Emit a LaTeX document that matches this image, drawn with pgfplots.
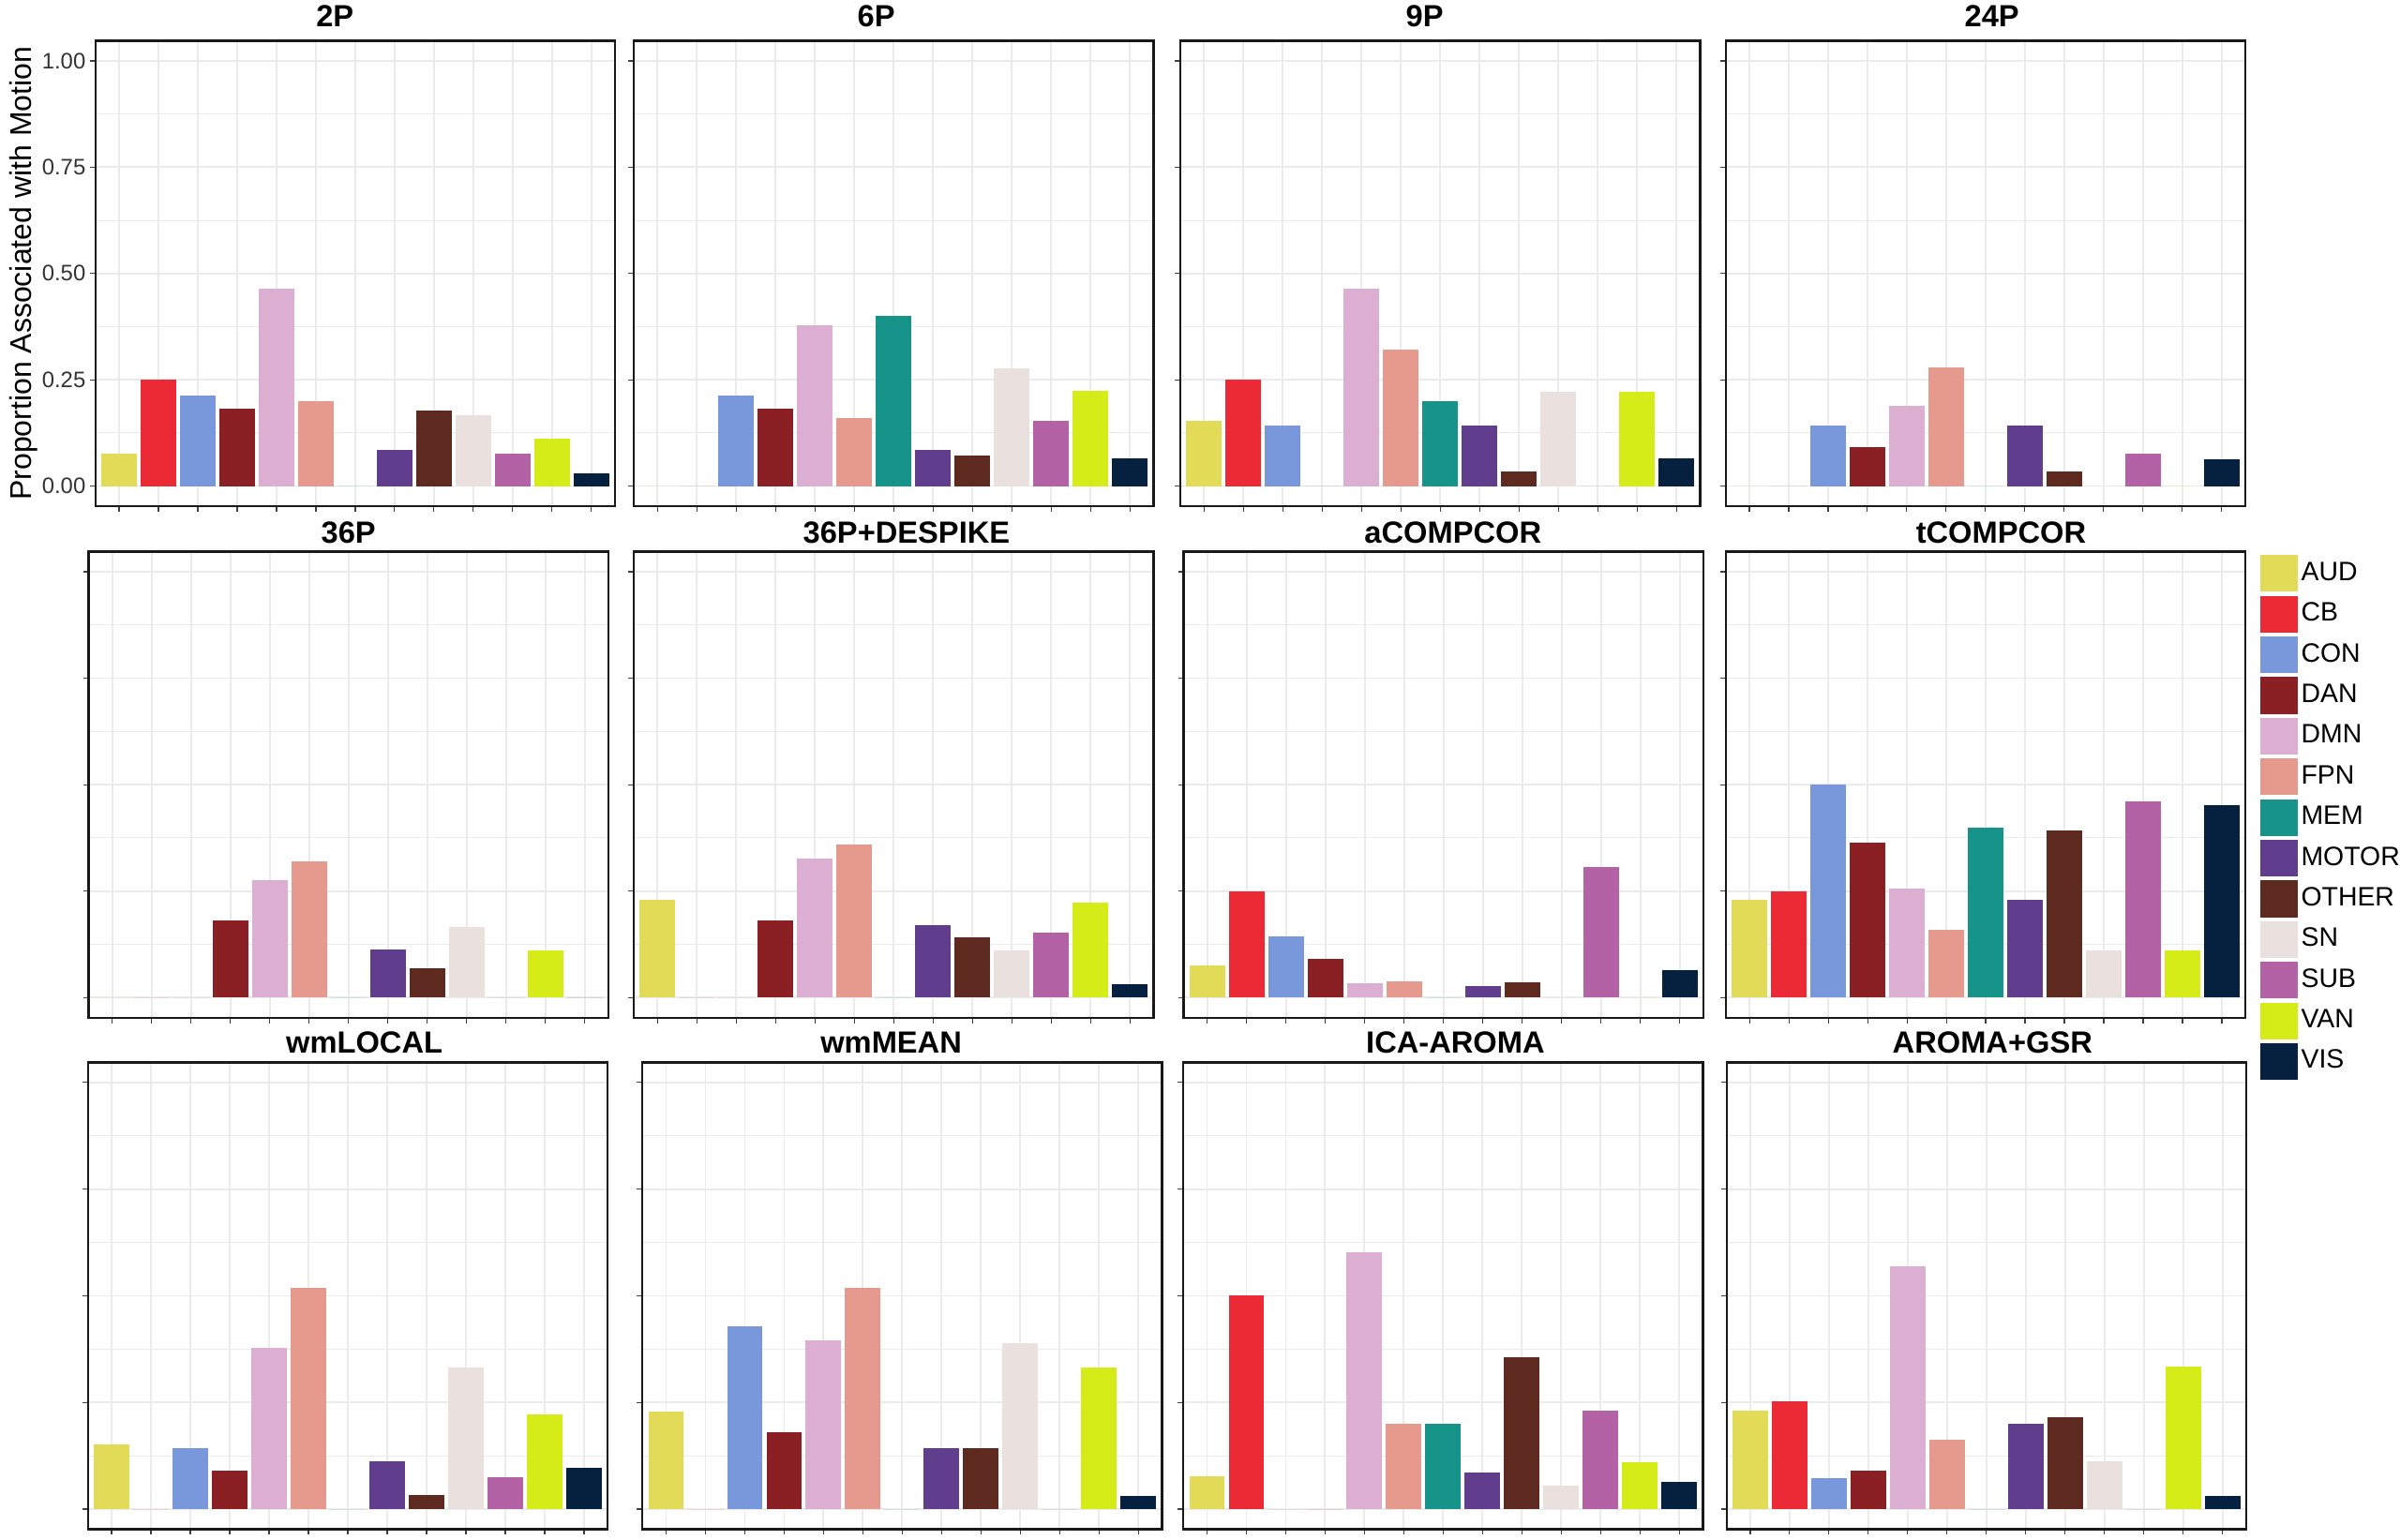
\documentclass[border=0pt]{standalone}
\usepackage{fontspec}
\setmainfont{Liberation Sans}
\usepackage{pgfplots}
\usepackage{pgfplotstable}
\pgfplotsset{compat=1.18}

\definecolor{cat1}{HTML}{E1DB57}
\definecolor{cat2}{HTML}{EC2A35}
\definecolor{cat3}{HTML}{7898DB}
\definecolor{cat4}{HTML}{8A1F24}
\definecolor{cat5}{HTML}{DCAED2}
\definecolor{cat6}{HTML}{E69A8D}
\definecolor{cat7}{HTML}{16948A}
\definecolor{cat8}{HTML}{613E8D}
\definecolor{cat9}{HTML}{5E2A1F}
\definecolor{cat10}{HTML}{EAE1DF}
\definecolor{cat11}{HTML}{B362A6}
\definecolor{cat12}{HTML}{D5EC18}
\definecolor{cat13}{HTML}{06203F}
\definecolor{gridgray}{HTML}{EBEBEB}

% rows: AUD CB CON DAN DMN FPN MEM MOTOR OTHER SN SUB VAN VIS
\pgfplotstableread{
i  PtwoP PsixP PnineP Ptwentyfour Pthirtysix Pdespike aCC   tCC   wmLOC wmMEAN ICA   AGSR
1  0.076 0     0.154  0           0          0.230    0.076 0.230 0.152 0.229  0.077 0.230
2  0.250 0     0.250  0           0          0        0.250 0.250 0     0      0.500 0.252
3  0.213 0.213 0.143  0.143       0          0        0.143 0.500 0.143 0.428  0     0.072
4  0.181 0.181 0      0.091       0.182      0.182    0.091 0.364 0.091 0.181  0     0.090
5  0.465 0.378 0.465  0.189       0.275      0.326    0.033 0.257 0.378 0.396  0.602 0.569
6  0.200 0.159 0.320  0.280       0.320      0.359    0.039 0.159 0.519 0.519  0.200 0.162
7  0     0.400 0.200  0           0          0        0     0.400 0     0      0.200 0
8  0.085 0.085 0.143  0.143       0.114      0.171    0.027 0.229 0.113 0.143  0.085 0.200
9  0.178 0.071 0.035  0.035       0.070      0.142    0.035 0.392 0.034 0.143  0.356 0.216
10 0.166 0.277 0.222  0           0.165      0.111    0     0.111 0.332 0.388  0.056 0.112
11 0.076 0.154 0      0.076       0          0.153    0.307 0.461 0.075 0      0.231 0
12 0.111 0.223 0.222  0           0.111      0.222    0     0.111 0.222 0.332  0.111 0.335
13 0.031 0.065 0.065  0.064       0          0.032    0.064 0.451 0.096 0.031  0.065 0.032
}\data

\newcommand\bars[1]{%
  \pgfplotsinvokeforeach{1,...,13}{%
    \addplot[ybar, bar width=0.9, bar shift=0pt, draw=none, fill=cat##1, forget plot,
      restrict x to domain=##1:##1] table[x=i, y=#1]{\data};
  }%
}

\pgfplotsset{
  every axis title/.style={at={(0.5,1)}, anchor=base, inner sep=0pt,
    font=\fontsize{10}{12}\selectfont\bfseries},
  every axis y label/.style={at={(axis description cs:-0.1233,0.5)}, rotate=90, anchor=base,
    inner sep=0pt, font=\fontsize{9.8}{12}\selectfont},
  panel/.style={
    scale only axis, width=169.75pt, height=152pt,
    anchor=south west,
    xmin=0.4, xmax=13.6, ymin=-0.047, ymax=1.047,
    xtick={1,...,13}, xticklabels={},
    ytick={0,0.25,0.5,0.75,1}, yticklabels={},
    minor ytick={0.125,0.375,0.625,0.875},
    xmajorgrids, ymajorgrids, yminorgrids,
    major grid style={color=gridgray, line width=0.55pt},
    minor grid style={color=gridgray, line width=0.3pt},
    tick pos=left, tick align=outside,
    major tick length=1.8pt, minor tick length=0pt,
    tick style={color=black!75, line width=0.4pt},
    axis line style={black!90, line width=0.7pt},
  },
}

\begin{document}
\begin{tikzpicture}
\path[use as bounding box] (0pt,0pt) rectangle (784pt,-503pt);

% ---------- Row 1 ----------
\begin{axis}[panel, at={(31.15pt,-165.35pt)}, title={2P},
  title style={xshift=-6.6pt, yshift=4.6pt},
  ylabel={Proportion Associated with Motion},
  yticklabels={0.00,0.25,0.50,0.75,1.00},
  yticklabel style={font=\fontsize{7.3}{8}\selectfont, color=black!80, inner sep=1.2pt}]
\bars{PtwoP}
\end{axis}

\begin{axis}[panel, at={(207.05pt,-165.35pt)}, title={6P},
  title style={xshift=-5.7pt, yshift=4.6pt}]
\bars{PsixP}
\end{axis}

\begin{axis}[panel, at={(385.6pt,-165.35pt)}, title={9P},
  title style={xshift=-5.1pt, yshift=4.6pt}]
\bars{PnineP}
\end{axis}

\begin{axis}[panel, at={(563.7pt,-165.35pt)}, title={24P},
  title style={xshift=2.1pt, yshift=4.6pt}]
\bars{Ptwentyfour}
\end{axis}

% ---------- Row 2 ----------
\begin{axis}[panel, height=152.25pt, at={(28.95pt,-332.5pt)}, title={36P},
  title style={xshift=0pt, yshift=2.65pt}]
\bars{Pthirtysix}
\end{axis}

\begin{axis}[panel, height=152.25pt, at={(207.05pt,-332.5pt)}, title={36P+DESPIKE},
  title style={xshift=4.2pt, yshift=2.65pt}]
\bars{Pdespike}
\end{axis}

\begin{axis}[panel, height=152.25pt, at={(386.65pt,-332.5pt)}, title={aCOMPCOR},
  title style={xshift=3.1pt, yshift=2.65pt}]
\bars{aCC}
\end{axis}

\begin{axis}[panel, height=152.25pt, at={(563.8pt,-332.5pt)}, title={tCOMPCOR},
  title style={xshift=5.0pt, yshift=2.65pt},
  legend image code/.code={\fill[#1, draw=none] (0pt,-6pt) rectangle (12pt,6pt);},
  legend cell align=left,
  legend style={at={(1.0292,0.9928)}, anchor=north west, draw=none, fill=none,
    inner sep=0pt, outer sep=0pt, row sep=1.29pt, column sep=1.2pt,
    nodes={inner sep=0pt}, font=\fontsize{8.7}{10}\selectfont}]
\bars{tCC}
\addlegendimage{fill=cat1, draw=none}\addlegendentry{AUD}
\addlegendimage{fill=cat2, draw=none}\addlegendentry{CB}
\addlegendimage{fill=cat3, draw=none}\addlegendentry{CON}
\addlegendimage{fill=cat4, draw=none}\addlegendentry{DAN}
\addlegendimage{fill=cat5, draw=none}\addlegendentry{DMN}
\addlegendimage{fill=cat6, draw=none}\addlegendentry{FPN}
\addlegendimage{fill=cat7, draw=none}\addlegendentry{MEM}
\addlegendimage{fill=cat8, draw=none}\addlegendentry{MOTOR}
\addlegendimage{fill=cat9, draw=none}\addlegendentry{OTHER}
\addlegendimage{fill=cat10, draw=none}\addlegendentry{SN}
\addlegendimage{fill=cat11, draw=none}\addlegendentry{SUB}
\addlegendimage{fill=cat12, draw=none}\addlegendentry{VAN}
\addlegendimage{fill=cat13, draw=none}\addlegendentry{VIS}
\end{axis}

% ---------- Row 3 ----------
\begin{axis}[panel, height=152.55pt, at={(28.75pt,-499.65pt)}, title={wmLOCAL},
  title style={xshift=5.4pt, yshift=2.95pt}]
\bars{wmLOC}
\end{axis}

\begin{axis}[panel, height=152.55pt, at={(209.85pt,-499.65pt)}, title={wmMEAN},
  title style={xshift=-3.6pt, yshift=2.95pt}]
\bars{wmMEAN}
\end{axis}

\begin{axis}[panel, height=152.55pt, at={(386.55pt,-499.65pt)}, title={ICA-AROMA},
  title style={xshift=4.0pt, yshift=2.95pt}]
\bars{ICA}
\end{axis}

\begin{axis}[panel, height=152.55pt, at={(564.0pt,-499.65pt)}, title={AROMA+GSR},
  title style={xshift=2.0pt, yshift=2.95pt}]
\bars{AGSR}
\end{axis}
\end{tikzpicture}
\end{document}
